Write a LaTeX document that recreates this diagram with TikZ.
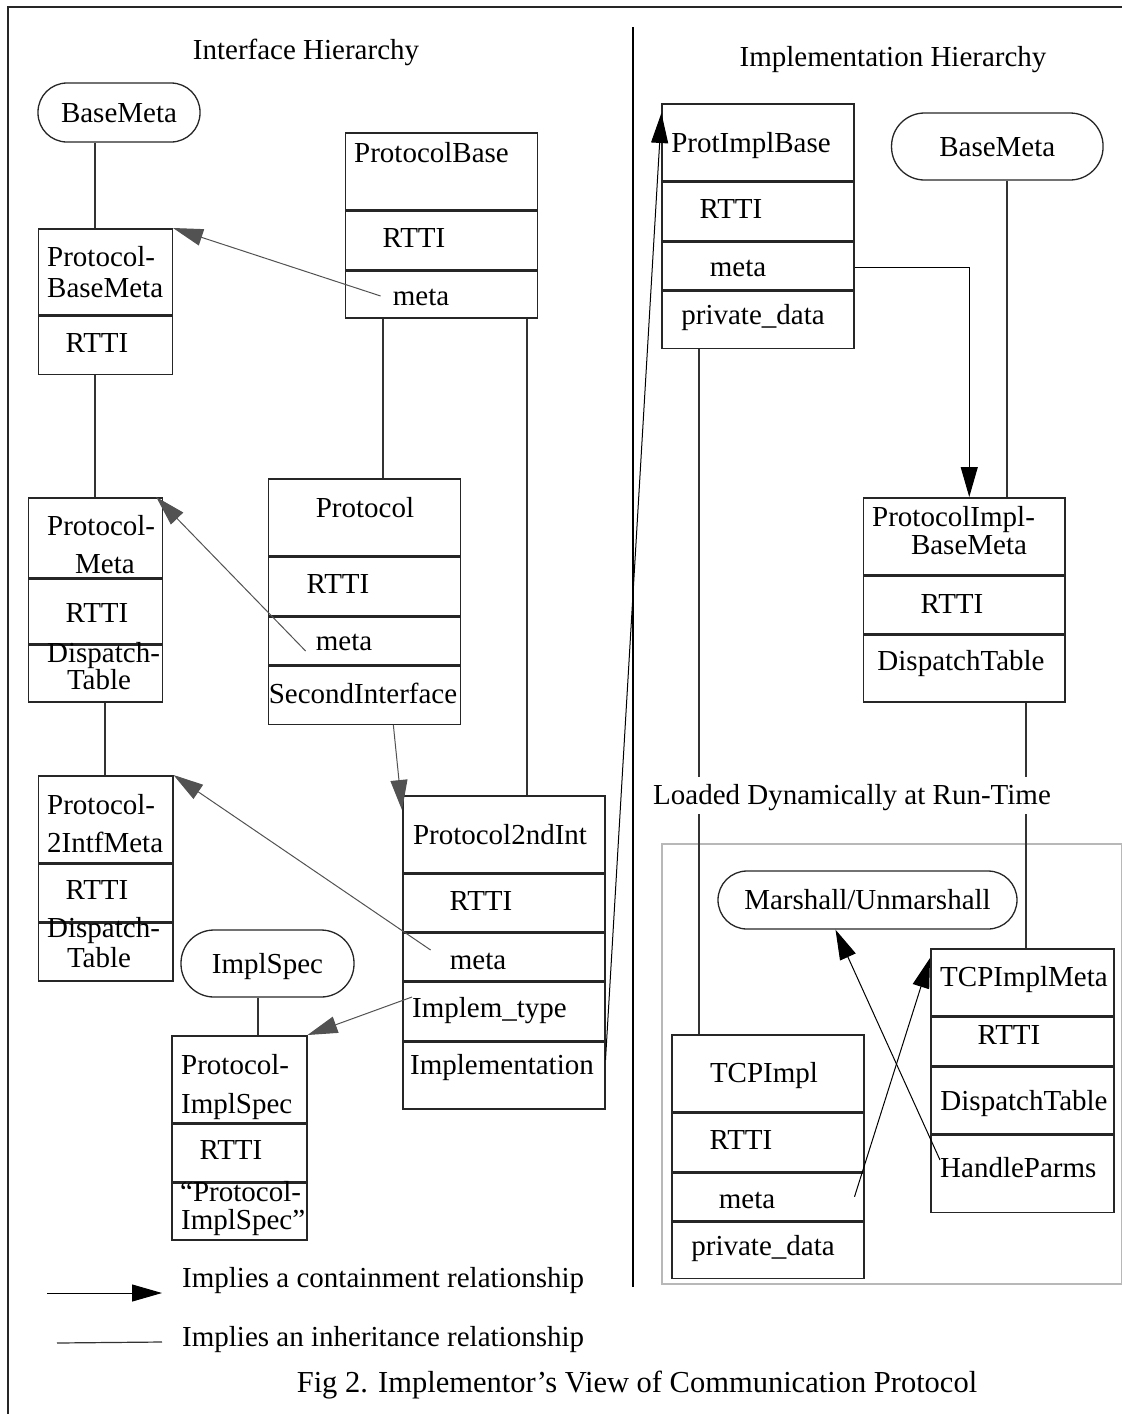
\documentclass[tikz,border=0pt]{standalone}
\usepackage{fontspec}
\setmainfont{Liberation Serif}
\usetikzlibrary{arrows.meta,positioning,calc}

\begin{document}
\begin{tikzpicture}[x=1pt,y=-1pt,font=\fontsize{29}{33}\selectfont,
   cell/.style={draw=black!85,line width=1.5pt,anchor=north west,inner sep=0pt},
   pill/.style={draw=black!85,line width=1.3pt,rounded corners=29pt,inner sep=0pt,text height=19pt,text depth=0pt},
   lbl/.style={inner sep=0pt,text height=19pt,text depth=0pt},
   inh/.style={draw=black!80,line width=1.5pt},
   cont/.style={draw=black!68,line width=1pt,-{Triangle[length=30pt,width=17pt]}},
   contb/.style={draw=black,line width=1pt,-{Triangle[length=30pt,width=17pt]}}]
  \useasboundingbox (0,0) rectangle (1122,1414);
  % frame and divider
  \draw[line width=1.5pt,black!85] (8,1414) -- (8,7) -- (1122,7);
  \draw[line width=1.2pt] (633,27) -- (633,1287);
  \node[lbl] (titleL) at (306,50) {Interface Hierarchy};
  \node[lbl] (titleR) at (893,57) {Implementation Hierarchy};

  % ---- interface side ----
  \node[pill,minimum width=162pt,minimum height=59pt] (bmL) at (119,112.5) {BaseMeta};
  % Protocol-BaseMeta
  \node[cell,minimum width=134pt,minimum height=86pt] (pbmA) at (37.5,228) {};
  \node[cell,minimum width=134pt,minimum height=58pt] (pbmB) at (pbmA.south west) {};
  \node[lbl,anchor=west] (pbmT1) at (47,257) {Protocol-};
  \node[lbl,anchor=west] (pbmT2) at (47,288) {BaseMeta};
  \node[lbl] (pbmT3) at (97,343) {RTTI};
  % ProtocolBase
  \node[cell,minimum width=192pt,minimum height=77pt] (pbA) at (344.6,132) {};
  \node[cell,minimum width=192pt,minimum height=58pt] (pbB) at (pbA.south west) {};
  \node[cell,minimum width=192pt,minimum height=47pt] (pbC) at (pbB.south west) {};
  \node[lbl,anchor=west] (pbT1) at (354,153) {ProtocolBase};
  \node[lbl] (pbT2) at (414,238) {RTTI};
  \node[lbl] (pbT3) at (421,296) {meta};
  % Protocol-Meta
  \node[cell,minimum width=134pt,minimum height=80pt] (pmA) at (27.7,497) {};
  \node[cell,minimum width=134pt,minimum height=64pt] (pmB) at (pmA.south west) {};
  \node[cell,minimum width=134pt,minimum height=57pt] (pmC) at (pmB.south west) {};
  \node[lbl,anchor=west] (pmT1) at (47,526) {Protocol-};
  \node[lbl] (pmT2) at (105,564) {Meta};
  \node[lbl] (pmT3) at (97,613) {RTTI};
  \node[lbl,anchor=west] (pmT4) at (47,653) {Dispatch-};
  \node[lbl] (pmT5) at (99,680) {Table};
  % Protocol
  \node[cell,minimum width=192pt,minimum height=77pt] (prA) at (267.6,478) {};
  \node[cell,minimum width=192pt,minimum height=58pt] (prB) at (prA.south west) {};
  \node[cell,minimum width=192pt,minimum height=48pt] (prC) at (prB.south west) {};
  \node[cell,minimum width=192pt,minimum height=58pt] (prD) at (prC.south west) {};
  \node[lbl] (prT1) at (365,508) {Protocol};
  \node[lbl] (prT2) at (338,584) {RTTI};
  \node[lbl] (prT3) at (344,641) {meta};
  \node[lbl] (prT4) at (363,694) {SecondInterface};
  % Protocol-2IntfMeta
  \node[cell,minimum width=134.5pt,minimum height=87pt] (p2iA) at (37.5,775) {};
  \node[cell,minimum width=134.5pt,minimum height=57pt] (p2iB) at (p2iA.south west) {};
  \node[cell,minimum width=134.5pt,minimum height=58pt] (p2iC) at (p2iB.south west) {};
  \node[lbl,anchor=west] (p2iT1) at (47,805) {Protocol-};
  \node[lbl,anchor=west] (p2iT2) at (47,843) {2IntfMeta};
  \node[lbl] (p2iT3) at (97,890) {RTTI};
  \node[lbl,anchor=west] (p2iT4) at (47,928) {Dispatch-};
  \node[lbl] (p2iT5) at (99,958) {Table};
  % ImplSpec
  \node[pill,rounded corners=33pt,minimum width=173pt,minimum height=67pt] (isp) at (267.5,963.5) {ImplSpec};
  \node[cell,minimum width=135pt,minimum height=87pt] (psA) at (171,1035) {};
  \node[cell,minimum width=135pt,minimum height=57pt] (psB) at (psA.south west) {};
  \node[cell,minimum width=135pt,minimum height=57pt] (psC) at (psB.south west) {};
  \node[lbl,anchor=west] (psT1) at (181,1065) {Protocol-};
  \node[lbl,anchor=west] (psT2) at (181,1104) {ImplSpec};
  \node[lbl] (psT3) at (231,1150) {RTTI};
  \node[lbl,anchor=west] (psT4) at (180,1192) {“Protocol-};
  \node[lbl,anchor=west] (psT5) at (181,1220) {ImplSpec”};
  % Protocol2ndInt
  \node[cell,minimum width=202pt,minimum height=77pt] (p2A) at (402,795) {};
  \node[cell,minimum width=202pt,minimum height=57pt] (p2B) at (p2A.south west) {};
  \node[cell,minimum width=202pt,minimum height=48pt] (p2C) at (p2B.south west) {};
  \node[cell,minimum width=202pt,minimum height=58pt] (p2D) at (p2C.south west) {};
  \node[cell,minimum width=202pt,minimum height=67pt] (p2E) at (p2D.south west) {};
  \node[lbl] (p2T1) at (500,835) {Protocol2ndInt};
  \node[lbl] (p2T2) at (481,901) {RTTI};
  \node[lbl] (p2T3) at (478,960) {meta};
  \node[lbl,anchor=west] (p2T4) at (412,1008) {Implem\_type};
  \node[lbl,anchor=west] (p2T5) at (410,1065) {Implementation};

  % inheritance lines (left)
  \draw[inh] (bmL.south -| 95,0) -- (pbmA.north -| 95,0);
  \draw[inh] (pbmB.south -| 95,0) -- (pmA.north -| 95,0);
  \draw[inh] (pmC.south -| 105,0) -- (p2iA.north -| 105,0);
  \draw[inh] (pbC.south -| 383,0) -- (prA.north -| 383,0);
  \draw[inh] (pbC.south -| 527,0) -- (p2A.north -| 527,0);
  \draw[inh] (isp.south -| 258,0) -- (psA.north -| 258,0);
  % containment arrows (left)
  \draw[cont] ([xshift=-12pt]pbT3.west) -- (pbmA.north east);
  \draw[cont] ([xshift=-10pt,yshift=-10pt]prT3.west) -- ([xshift=-7pt]pmA.north east);
  \draw[cont] ([xshift=29pt]prD.south) -- ([yshift=-15pt]p2A.north west);
  \draw[cont] ([xshift=-19pt,yshift=10pt]p2T3.west) -- (p2iA.north east);
  \draw[cont] ([yshift=11pt]p2T4.west) -- (psA.north east);

  % ---- implementation side ----
  \node[cell,minimum width=192pt,minimum height=77pt] (pibA) at (661.4,103) {};
  \node[cell,minimum width=192pt,minimum height=58pt] (pibB) at (pibA.south west) {};
  \node[cell,minimum width=192pt,minimum height=48pt] (pibC) at (pibB.south west) {};
  \node[cell,minimum width=192pt,minimum height=57pt] (pibD) at (pibC.south west) {};
  \node[lbl] (pibT1) at (751,143) {ProtImplBase};
  \node[lbl] (pibT2) at (731,209) {RTTI};
  \node[lbl] (pibT3) at (738,267) {meta};
  \node[lbl] (pibT4) at (753,315) {private\_data};
  \node[pill,rounded corners=33pt,minimum width=211.5pt,minimum height=67pt] (bmR) at (997.3,146.5) {BaseMeta};
  % ProtocolImpl-BaseMeta
  \node[cell,minimum width=201.6pt,minimum height=77pt] (pimA) at (862.7,497) {};
  \node[cell,minimum width=201.6pt,minimum height=57pt] (pimB) at (pimA.south west) {};
  \node[cell,minimum width=201.6pt,minimum height=67pt] (pimC) at (pimB.south west) {};
  \node[lbl,anchor=west] (pimT1) at (872,517) {ProtocolImpl-};
  \node[lbl] (pimT2) at (969,545) {BaseMeta};
  \node[lbl] (pimT3) at (952,604) {RTTI};
  \node[lbl] (pimT4) at (961,661) {DispatchTable};
  % dynamically loaded part
  \node[cell,draw=black!28,minimum width=460pt,minimum height=440pt] (dyn) at (661,843) {};
  \node[pill,minimum width=299pt,minimum height=58pt] (mar) at (867.5,900) {Marshall/Unmarshall};
  \node[cell,minimum width=183pt,minimum height=67pt] (tmA) at (930,948) {};
  \node[cell,minimum width=183pt,minimum height=48pt] (tmB) at (tmA.south west) {};
  \node[cell,minimum width=183pt,minimum height=67pt] (tmC) at (tmB.south west) {};
  \node[cell,minimum width=183pt,minimum height=77pt] (tmD) at (tmC.south west) {};
  \node[lbl] (tmT1) at (1024,977) {TCPImplMeta};
  \node[lbl] (tmT2) at (1009,1035) {RTTI};
  \node[lbl] (tmT3) at (1024,1101) {DispatchTable};
  \node[lbl,anchor=west] (tmT4) at (940,1168) {HandleParms};
  \node[cell,minimum width=192pt,minimum height=77pt] (tcA) at (671,1034) {};
  \node[cell,minimum width=192pt,minimum height=58pt] (tcB) at (tcA.south west) {};
  \node[cell,minimum width=192pt,minimum height=48pt] (tcC) at (tcB.south west) {};
  \node[cell,minimum width=192pt,minimum height=56pt] (tcD) at (tcC.south west) {};
  \node[lbl] (tcT1) at (764,1073) {TCPImpl};
  \node[lbl] (tcT2) at (741,1140) {RTTI};
  \node[lbl] (tcT3) at (747,1199) {meta};
  \node[lbl] (tcT4) at (763,1246) {private\_data};

  % inheritance lines (right)
  \draw[inh] (bmR.south -| 1007,0) -- (pimA.north -| 1007,0);
  \draw[inh] (pibD.south -| 699,0) -- (tcA.north -| 699,0);
  \draw[inh] (pimC.south -| 1026,0) -- (tmA.north -| 1026,0);
  \node[lbl,fill=white,inner xsep=2pt,inner ysep=9pt] (dynT) at (852,795) {Loaded Dynamically at Run-Time};
  % containment arrows (right)
  \draw[contb] ([yshift=15.5pt]p2E.east) -- ([yshift=-10pt]pibA.north west);
  \draw[contb] (pibC.east |- pibT3) -| ([xshift=5pt]pimA.north);
  \draw[contb] ([xshift=-10pt]tcC.east) -- ([yshift=-10pt]tmA.north west);
  \draw[contb] ([yshift=8pt]tmT4.west) -- ([xshift=-32pt]mar.south);

  % legend
  \coordinate (lgA1) at (47,1293);
  \coordinate (lgA2) at (162,1293);
  \coordinate (lgB1) at (57,1343);
  \coordinate (lgB2) at (162,1342);
  \draw[contb] (lgA1) -- (lgA2);
  \draw[inh,line width=1.2pt] (lgB1) -- (lgB2);
  \node[lbl,anchor=west] (lgA) at (182,1278) {Implies a containment relationship};
  \node[lbl,anchor=west] (lgB) at (182,1337) {Implies an inheritance relationship};
  \node[lbl,font=\fontsize{30.5}{35}\selectfont] (cap) at (637,1383) {Fig 2. Implementor’s View of Communication Protocol};
\end{tikzpicture}
\end{document}
